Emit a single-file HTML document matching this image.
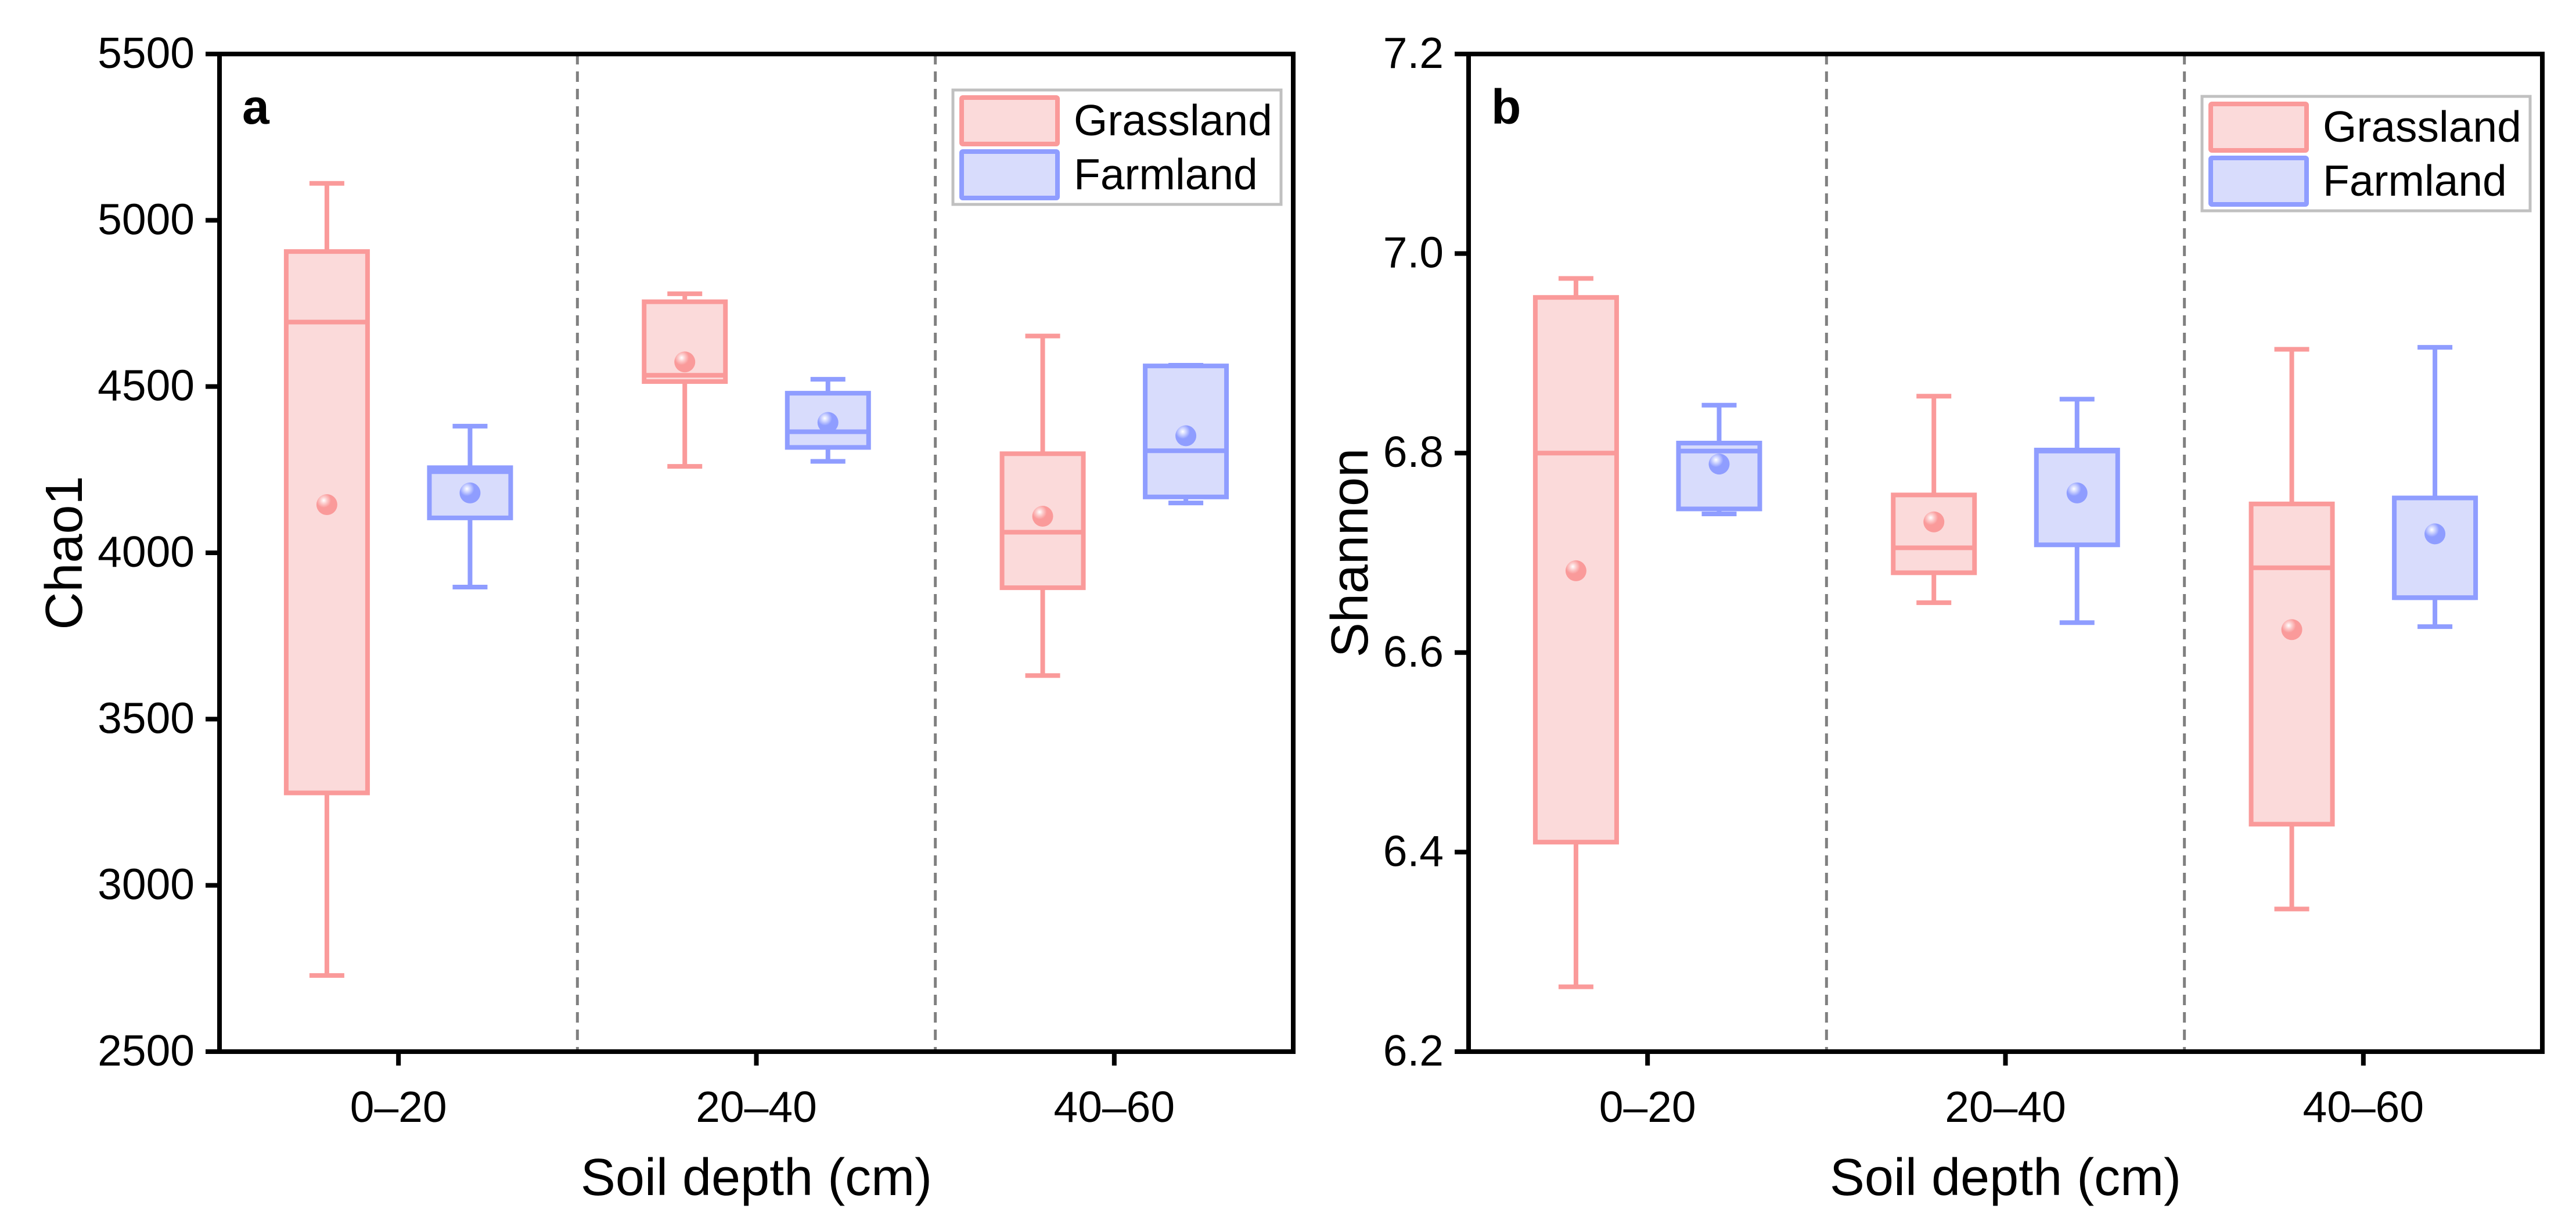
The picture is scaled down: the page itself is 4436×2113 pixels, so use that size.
<!DOCTYPE html>
<html><head><meta charset="utf-8">
<style>
html,body{margin:0;padding:0;background:#fff;}
svg{display:block;font-family:"Liberation Sans",Arial,sans-serif;}
</style></head>
<body>
<svg id="fig" width="4436" height="2113" viewBox="0 0 4436 2113" xmlns="http://www.w3.org/2000/svg">
<defs>
<radialGradient id="gdotR" cx="0.35" cy="0.3" r="0.7">
<stop offset="0" stop-color="#ffffff"/><stop offset="0.25" stop-color="#fcc8c8"/><stop offset="0.5" stop-color="#fa9a9a"/><stop offset="1" stop-color="#fa9a9a"/>
</radialGradient>
<radialGradient id="gdotB" cx="0.35" cy="0.3" r="0.7">
<stop offset="0" stop-color="#ffffff"/><stop offset="0.25" stop-color="#c8cfff"/><stop offset="0.5" stop-color="#8f9dff"/><stop offset="1" stop-color="#8f9dff"/>
</radialGradient>
</defs>
</svg>
<script>
// ---- data ----
const categories = ["0–20", "20–40", "40–60"];
const seriesNames = ["Grassland", "Farmland"];
// Chao1 (panel a): [lowWhisker, Q1, median, Q3, highWhisker, mean]
const chaoGrass = [[2729,3278,4694,4906,5111,4145],[4260,4515,4534,4755,4779,4574],[3631,3895,4062,4298,4652,4110]];
const chaoFarm  = [[3897,4105,4244,4256,4381,4180],[4275,4317,4364,4480,4522,4392],[4150,4168,4307,4562,4564,4352]];
const chaoTicks = [2500,3000,3500,4000,4500,5000,5500];
// Shannon (panel b)
const shanGrass = [[6.265,6.410,6.800,6.956,6.975,6.682],[6.650,6.680,6.705,6.758,6.857,6.731],[6.343,6.428,6.685,6.749,6.904,6.623]];
const shanFarm  = [[6.739,6.744,6.802,6.810,6.848,6.789],[6.630,6.708,6.802,6.803,6.854,6.760],[6.626,6.655,6.655,6.755,6.906,6.719]];
const shanTicks = ["6.2","6.4","6.6","6.8","7.0","7.2"];

const NS = "http://www.w3.org/2000/svg";
const svg = document.getElementById("fig");
function mk(tag, attrs, parent){
  const e = document.createElementNS(NS, tag);
  for (const k in attrs) e.setAttribute(k, attrs[k]);
  (parent||svg).appendChild(e);
  return e;
}
const COL = {g:{s:"#fa9a9a",f:"#fbdada",d:"url(#gdotR)"}, b:{s:"#8f9dff",f:"#d8dcfc",d:"url(#gdotB)"}};

function panel(opt){
  const L=opt.left, R=opt.left+1849, T=93, B=1811;
  const g = mk("g",{});
  
  
  const y = v => B - (v - opt.ymin)/(opt.ymax-opt.ymin)*(B-T);
  const xc = i => L + (i+0.5)*(R-L)/3;
  const cw = (R-L)/3;
  // dashed separators
  [1,2].forEach(k=>{
    const l = mk("line",{x1:L+k*cw,x2:L+k*cw,y1:T,y2:B,stroke:"#808080","stroke-width":5,"stroke-dasharray":"18,12"},g);
    
    
  });
  // boxes
  const sets=[[opt.g,COL.g,-0.2,"grassland"],[opt.b,COL.b,0.2,"farmland"]];
  categories.forEach((c,i)=>{
    sets.forEach(([arr,col,off,nm])=>{
      const d=arr[i]; const cx=xc(i)+off*cw; const hw=70, cap=30;
      const bg = mk("g",{},g);
      
      
      mk("line",{x1:cx,x2:cx,y1:y(d[4]),y2:y(d[3]),stroke:col.s,"stroke-width":8},bg);
      mk("line",{x1:cx,x2:cx,y1:y(d[1]),y2:y(d[0]),stroke:col.s,"stroke-width":8},bg);
      mk("line",{x1:cx-cap,x2:cx+cap,y1:y(d[4]),y2:y(d[4]),stroke:col.s,"stroke-width":8},bg);
      mk("line",{x1:cx-cap,x2:cx+cap,y1:y(d[0]),y2:y(d[0]),stroke:col.s,"stroke-width":8},bg);
      mk("rect",{x:cx-hw,y:y(d[3]),width:2*hw,height:y(d[1])-y(d[3]),fill:col.f,stroke:col.s,"stroke-width":8},bg);
      mk("line",{x1:cx-hw,x2:cx+hw,y1:y(d[2]),y2:y(d[2]),stroke:col.s,"stroke-width":8},bg);
      const m = mk("circle",{cx:cx,cy:y(d[5]),r:18,fill:col.d},bg);
      
      
    });
  });
  // frame
  const fr = mk("rect",{x:L,y:T,width:R-L,height:B-T,fill:"none",stroke:"#000","stroke-width":8},g);
  
  
  // y ticks
  opt.ticks.forEach(t=>{
    const v=parseFloat(t), yy=y(v);
    mk("line",{x1:L-24,x2:L,y1:yy,y2:yy,stroke:"#000","stroke-width":8},g);
    const tx = mk("text",{x:L-43,y:yy+24,"text-anchor":"end","font-size":75},g);
    tx.textContent = t;
    
    
  });
  // x ticks
  categories.forEach((c,i)=>{
    mk("line",{x1:xc(i),x2:xc(i),y1:B,y2:B+24,stroke:"#000","stroke-width":8},g);
    const tx = mk("text",{x:xc(i),y:1932,"text-anchor":"middle","font-size":75},g);
    tx.textContent = c;
    
    
  });
  const xt = mk("text",{x:(L+R)/2,y:2058,"text-anchor":"middle","font-size":90},g);
  xt.textContent = "Soil depth (cm)";
  
  
  const yt = mk("text",{x:0,y:0,"text-anchor":"middle","font-size":90,transform:`translate(${opt.ytx},952) rotate(-90)`},g);
  yt.textContent = opt.ytitle;
  
  
  const pl = mk("text",{x:L+39,y:213,"font-size":84,"font-weight":"bold"},g);
  pl.textContent = opt.label;
  
  
  // legend
  const lx=opt.legX, ly=opt.legY;
  const lg = mk("g",{},g);
  
  
  mk("rect",{x:lx,y:ly,width:565,height:197,fill:"#fff",stroke:"#c0c0c0","stroke-width":5},lg);
  seriesNames.forEach((s,k)=>{
    const col = k===0?COL.g:COL.b;
    const e = mk("g",{},lg);
    
    
    mk("rect",{x:lx+15,y:ly+13+k*93,width:165,height:80,fill:col.f,stroke:col.s,"stroke-width":8,rx:2},e);
    const t = mk("text",{x:lx+208,y:ly+78+k*93,"font-size":75},e);
    t.textContent = s;
  });
}
panel({name:"panel-a-chao1",left:378,ymin:2500,ymax:5500,ticks:chaoTicks.map(String),g:chaoGrass,b:chaoFarm,ytitle:"Chao1",ytx:141,label:"a",legX:1641,legY:155});
panel({name:"panel-b-shannon",left:2529,ymin:6.2,ymax:7.2,ticks:shanTicks,g:shanGrass,b:shanFarm,ytitle:"Shannon",ytx:2355,label:"b",legX:3792,legY:166});
</script>
</body></html>
